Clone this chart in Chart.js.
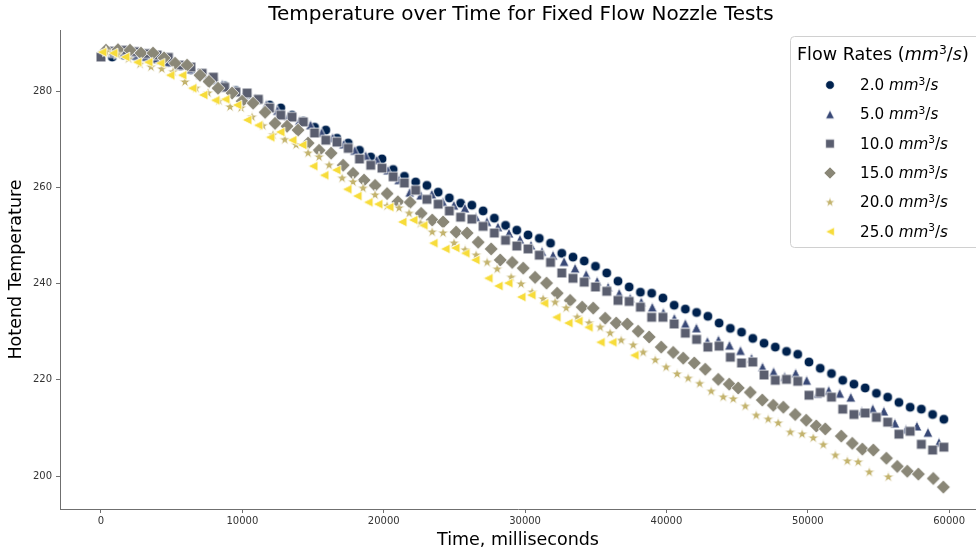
<!DOCTYPE html>
<html>
<head>
<meta charset="utf-8">
<script src="https://cdn.jsdelivr.net/npm/chart.js@4.4.1/dist/chart.umd.min.js"></script>
<style>
html,body{margin:0;padding:0;background:#fff;overflow:hidden}
canvas{display:block}
</style>
</head>
<body>
<canvas id="c" width="976" height="551"></canvas>
<script>
// ---------------- data ----------------
const chartTitle = "Temperature over Time for Fixed Flow Nozzle Tests";
const xTitle = "Time, milliseconds";
const yTitle = "Hotend Temperature";
const legendTitle = "Flow Rates";
const flowRates = ["2.0", "5.0", "10.0", "15.0", "20.0", "25.0"];
const xTicks = [0, 10000, 20000, 30000, 40000, 50000, 60000];
const yTicks = [200, 220, 240, 260, 280];

const time_2 = [0,795,1590,2385,3180,3975,4770,5565,6360,7155,7950,8745,9540,10335,11130,11925,12720,13515,14310,15105,15900,16695,17490,18285,19080,19875,20670,21465,22260,23055,23850,24645,25440,26235,27030,27825,28620,29415,30210,31005,31800,32595,33390,34185,34980,35775,36570,37365,38160,38955,39750,40545,41340,42135,42930,43725,44520,45315,46110,46905,47700,48495,49290,50085,50880,51675,52470,53265,54060,54855,55650,56445,57240,58035,58830,59625];
const temp_2 = [287.4,287.1,287.5,287.3,287.0,286.6,286.0,285.3,284.4,283.4,282.3,281.1,280.1,279.2,278.2,277.1,276.5,275.0,273.8,272.5,271.9,270.2,269.2,267.7,266.3,265.9,263.7,262.3,261.1,260.4,259.0,257.8,256.7,256.3,255.1,253.6,252.1,251.1,250.1,249.4,248.4,246.3,245.5,244.7,243.6,242.2,240.5,239.3,238.2,238.0,237.0,235.5,234.7,234.0,233.2,231.8,230.7,229.9,228.6,227.6,226.8,225.9,225.3,223.7,222.4,221.3,219.9,219.1,218.3,217.2,216.4,215.3,214.3,213.9,212.8,211.8];

const time_5 = [0,780,1560,2340,3120,3900,4680,5460,6240,7020,7800,8580,9360,10140,10920,11700,12480,13260,14040,14820,15600,16380,17160,17940,18720,19500,20280,21060,21840,22620,23400,24180,24960,25740,26520,27300,28080,28860,29640,30420,31200,31980,32760,33540,34320,35100,35880,36660,37440,38220,39000,39780,40560,41340,42120,42900,43680,44460,45240,46020,46800,47580,48360,49140,49920,50700,51480,52260,53040,53820,54600,55380,56160,56940,57720,58500,59280];
const temp_5 = [287.8,288.0,287.9,287.6,287.2,286.8,286.1,285.3,284.6,283.5,282.6,281.4,280.2,279.4,278.5,277.2,276.0,274.9,273.9,273.0,271.4,270.3,269.0,267.7,266.6,265.7,263.6,261.6,259.0,258.4,258.6,257.0,256.3,255.7,253.8,252.9,251.8,250.5,249.2,248.0,246.7,245.9,244.6,243.2,241.9,240.5,239.3,238.0,237.0,236.2,235.1,234.0,232.8,231.7,230.8,228.0,228.3,227.2,226.1,224.5,222.7,221.7,220.7,221.4,219.9,217.2,217.8,217.2,216.4,213.5,214.0,213.5,211.0,209.7,210.4,209.1,207.0];

const time_10 = [0,795,1590,2385,3180,3975,4770,5565,6360,7155,7950,8745,9540,10335,11130,11925,12720,13515,14310,15105,15900,16695,17490,18285,19080,19875,20670,21465,22260,23055,23850,24645,25440,26235,27030,27825,28620,29415,30210,31005,31800,32595,33390,34185,34980,35775,36570,37365,38160,38955,39750,40545,41340,42135,42930,43725,44520,45315,46110,46905,47700,48495,49290,50085,50880,51675,52470,53265,54060,54855,55650,56445,57240,58035,58830,59625];
const temp_10 = [287.1,288.3,288.5,288.2,287.8,287.5,287.0,285.4,285.0,283.7,282.9,280.8,279.8,279.6,278.3,276.5,275.0,274.6,273.6,271.3,269.8,269.4,268.1,265.9,264.6,264.0,262.2,260.9,259.4,257.5,256.5,255.1,253.8,253.4,251.9,250.5,249.0,247.8,247.2,245.9,244.4,242.2,241.1,240.3,239.3,238.4,236.5,236.3,235.1,233.0,233.0,231.6,229.7,228.4,226.8,227.0,224.7,223.5,223.7,221.0,219.9,220.1,219.7,216.8,217.4,216.4,213.9,212.8,213.1,212.2,211.2,208.7,209.3,206.6,205.4,206.0];

const time_15 = [350,1200,2050,2830,3680,4460,5240,6090,7000,7640,8280,9270,9980,10760,11610,12310,13160,13940,14650,15430,16280,17130,17830,18610,19390,20240,21000,21870,22650,23430,24200,25120,25900,26680,27600,28240,29090,29870,30710,31520,32270,33190,34040,34820,35670,36450,37230,38000,38780,39630,40480,41190,41970,42750,43670,44440,45080,45930,46780,47560,48270,49110,49890,50600,51240,52370,53150,53860,54640,55560,56330,57040,57820,58880,59590];
const temp_15 = [288.5,288.6,288.5,287.9,287.9,286.9,285.8,285.4,283.3,282.0,280.6,279.6,277.9,277.5,275.6,273.3,272.7,271.9,269.2,267.7,267.1,264.6,262.9,261.5,260.4,258.7,257.0,256.9,254.6,253.2,252.8,250.7,250.5,248.6,247.2,244.9,244.4,243.2,241.3,240.1,238.0,236.5,235.1,234.9,232.8,231.8,231.6,230.1,228.9,226.8,225.7,224.5,223.5,222.2,220.1,219.1,218.3,217.4,215.8,214.7,214.3,212.8,211.6,210.4,209.8,208.3,206.8,205.6,205.4,203.7,202.0,201.0,200.4,199.5,197.7];

const time_20 = [350,1150,1950,2760,3540,4300,5100,5940,6720,7570,8350,9130,9910,10690,11450,12170,13000,13800,14650,15430,16140,17060,17830,18540,19390,20240,21090,21800,22600,23430,24200,24980,25760,26540,27320,28030,29020,29720,30500,31280,32130,32910,33690,34540,35320,36020,36800,37650,38360,39210,39980,40760,41540,42350,43170,44020,44730,45580,46350,47200,47910,48760,49600,50390,51100,51950,52800,53570,54350,55700];
const temp_20 = [288.2,287.6,286.7,285.6,285.0,284.6,284.0,281.9,280.6,279.6,278.0,276.7,276.5,274.6,272.8,270.9,269.9,268.8,267.1,266.3,264.6,261.9,261.1,259.8,258.4,256.1,255.7,254.6,252.5,250.7,250.5,248.4,247.0,245.9,244.4,243.0,241.3,239.9,238.2,236.8,236.1,234.9,233.0,231.8,230.9,229.7,228.2,227.2,225.7,224.1,222.6,221.2,220.3,219.2,217.6,216.4,216.0,214.5,212.6,211.8,211.0,209.1,208.7,207.9,206.5,204.3,203.1,202.9,200.8,199.8];

const time_25 = [70,850,1700,2550,3330,4180,4880,5730,6440,7220,8070,8780,9620,10330,11110,11960,12670,13520,14220,15000,15780,16630,17410,18120,18900,19600,20380,21300,22080,22790,23500,24350,25050,25760,26470,27390,28100,28800,29720,30430,31330,32200,33050,33760,34470,35320,36160,37720];
const temp_25 = [288.1,287.9,287.1,286.0,286.0,285.8,283.3,283.3,280.6,279.2,278.1,278.3,277.1,274.0,272.9,270.4,271.5,269.8,268.8,264.4,262.5,263.6,259.6,258.2,256.9,256.5,255.9,252.8,253.2,252.1,248.4,247.2,247.4,246.3,244.9,241.1,239.5,240.1,237.2,237.6,235.9,233.0,231.8,232.2,230.9,227.8,227.8,225.1];

// ---------------- styling ----------------
const FONT = "'DejaVu Sans', 'Liberation Sans', sans-serif";
const colors = ['#00224e', '#384876', '#5a5e6f', '#8a8777', '#c3b36d', '#f7dc3a'];
const shapes = ['circle', 'triUp', 'square', 'diamond', 'star', 'triLeft'];
const seriesTimes = [time_2, time_5, time_10, time_15, time_20, time_25];
const seriesTemps = [temp_2, temp_5, temp_10, temp_15, temp_20, temp_25];

function makeMarker(shape, color, m, lw) {
  const S = 22;
  const c = document.createElement('canvas');
  c.width = S; c.height = S;
  const g = c.getContext('2d');
  const r = m / 2;
  g.translate(S / 2, S / 2);
  g.beginPath();
  if (shape === 'circle') {
    g.arc(0, 0, r, 0, Math.PI * 2);
  } else if (shape === 'triUp') {
    g.moveTo(0, -r); g.lineTo(-r, r); g.lineTo(r, r); g.closePath();
  } else if (shape === 'square') {
    g.rect(-r, -r, m, m);
  } else if (shape === 'diamond') {
    const d = r * Math.SQRT2;
    g.moveTo(0, -d); g.lineTo(d, 0); g.lineTo(0, d); g.lineTo(-d, 0); g.closePath();
  } else if (shape === 'star') {
    for (let k = 0; k < 10; k++) {
      const rr = (k % 2) ? r * 0.48 : r * 1.2;
      const a = -Math.PI / 2 + k * Math.PI / 5;
      const px = Math.cos(a) * rr, py = Math.sin(a) * rr;
      if (k === 0) g.moveTo(px, py); else g.lineTo(px, py);
    }
    g.closePath();
  } else if (shape === 'triLeft') {
    g.moveTo(-r, 0); g.lineTo(r, -r); g.lineTo(r, r); g.closePath();
  }
  g.fillStyle = color;
  g.fill();
  g.strokeStyle = '#ffffff';
  g.lineWidth = lw;
  g.stroke();
  return c;
}

const plotMarkers = shapes.map((s, i) => makeMarker(s, colors[i], 9.8, 0.8));
const legendMarkers = shapes.map((s, i) => makeMarker(s, colors[i], 8.6, 0.6));

const datasets = flowRates.map((f, i) => ({
  label: f,
  data: seriesTimes[i].map((t, j) => ({ x: t, y: seriesTemps[i][j] })),
  pointStyle: plotMarkers[i],
  pointRadius: 5,
  showLine: false,
  order: 6 - i
}));

// draw "mm³/s" style mixed text
function drawMath(ctx, parts, x, baseline, size) {
  let cx = x;
  ctx.textBaseline = 'alphabetic';
  ctx.textAlign = 'left';
  for (const [txt, kind] of parts) {
    let fs = size, dy = 0, style = '';
    if (kind === 'i') style = 'italic ';
    if (kind === 'sup') { fs = size * 0.7; dy = -size * 0.36; }
    ctx.font = style + fs + 'px ' + FONT;
    ctx.fillText(txt, cx, baseline + dy);
    cx += ctx.measureText(txt).width;
  }
}
function unitParts(prefix) {
  return [[prefix, 'n'], ['mm', 'i'], ['3', 'sup'], ['/', 'n'], ['s', 'i']];
}

const titlePlugin = {
  id: 'centeredTitle',
  afterDraw(chart) {
    const ctx = chart.ctx;
    ctx.save();
    ctx.fillStyle = '#000';
    ctx.font = '20px ' + FONT;
    ctx.textAlign = 'center';
    ctx.textBaseline = 'middle';
    ctx.fillText(chartTitle, 521, 14.5);
    ctx.restore();
  }
};

const legendPlugin = {
  id: 'flowLegend',
  afterDraw(chart) {
    const ctx = chart.ctx;
    ctx.save();
    const bx = 790.5, by = 36.5, bw = 220, bh = 211, rr = 4;
    ctx.beginPath();
    ctx.moveTo(bx + rr, by);
    ctx.lineTo(bx + bw - rr, by);
    ctx.arcTo(bx + bw, by, bx + bw, by + rr, rr);
    ctx.lineTo(bx + bw, by + bh - rr);
    ctx.arcTo(bx + bw, by + bh, bx + bw - rr, by + bh, rr);
    ctx.lineTo(bx + rr, by + bh);
    ctx.arcTo(bx, by + bh, bx, by + bh - rr, rr);
    ctx.lineTo(bx, by + rr);
    ctx.arcTo(bx, by, bx + rr, by, rr);
    ctx.closePath();
    ctx.fillStyle = 'rgba(255,255,255,0.85)';
    ctx.fill();
    ctx.strokeStyle = '#d0d0d0';
    ctx.lineWidth = 1;
    ctx.stroke();

    ctx.fillStyle = '#000';
    drawMath(ctx, [[legendTitle + ' (', 'n'], ['mm', 'i'], ['3', 'sup'], ['/', 'n'], ['s', 'i'], [')', 'n']], 797, 60, 17.6);
    for (let i = 0; i < flowRates.length; i++) {
      const base = 90 + i * 29.33;
      const mk = legendMarkers[i];
      ctx.drawImage(mk, 830 - mk.width / 2, base - 5 - mk.height / 2);
      ctx.fillStyle = '#000';
      drawMath(ctx, unitParts(flowRates[i] + ' '), 860, base, 15.2);
    }
    ctx.restore();
  }
};

const axisColor = '#6f6f6f';
new Chart(document.getElementById('c'), {
  type: 'scatter',
  data: { datasets },
  plugins: [titlePlugin, legendPlugin],
  options: {
    responsive: false,
    animation: false,
    devicePixelRatio: 1,
    layout: { autoPadding: false, padding: { top: 30, right: 0, bottom: 0, left: 0 } },
    plugins: {
      legend: { display: false },
      tooltip: { enabled: false },
      title: { display: false }
    },
    scales: {
      x: {
        type: 'linear',
        min: -2900,
        max: 61900,
        afterBuildTicks: (s) => { s.ticks = xTicks.map(v => ({ value: v })); },
        afterFit: (s) => { s.height = 42; },
        grid: { drawOnChartArea: false, drawTicks: true, tickLength: 4, color: axisColor, lineWidth: 1 },
        border: { display: true, color: axisColor, width: 1 },
        ticks: { font: { family: FONT, size: 10 }, color: '#333', padding: 2, maxRotation: 0, autoSkip: false, callback: (v) => String(v) },
        title: { display: true, text: xTitle, font: { family: FONT, size: 17.5 }, color: '#000', padding: { top: 0, bottom: 0 } }
      },
      y: {
        type: 'linear',
        min: 193.15,
        max: 292.7,
        afterBuildTicks: (s) => { s.ticks = yTicks.map(v => ({ value: v })); },
        afterFit: (s) => { s.width = 60; },
        grid: { drawOnChartArea: false, drawTicks: true, tickLength: 4, color: axisColor, lineWidth: 1 },
        border: { display: true, color: axisColor, width: 1 },
        ticks: { font: { family: FONT, size: 10 }, color: '#333', padding: 4, callback: (v) => String(v) },
        title: { display: true, text: yTitle, font: { family: FONT, size: 17.5 }, color: '#000', padding: { top: 6, bottom: 0 } }
      }
    }
  }
});
</script>
</body>
</html>
